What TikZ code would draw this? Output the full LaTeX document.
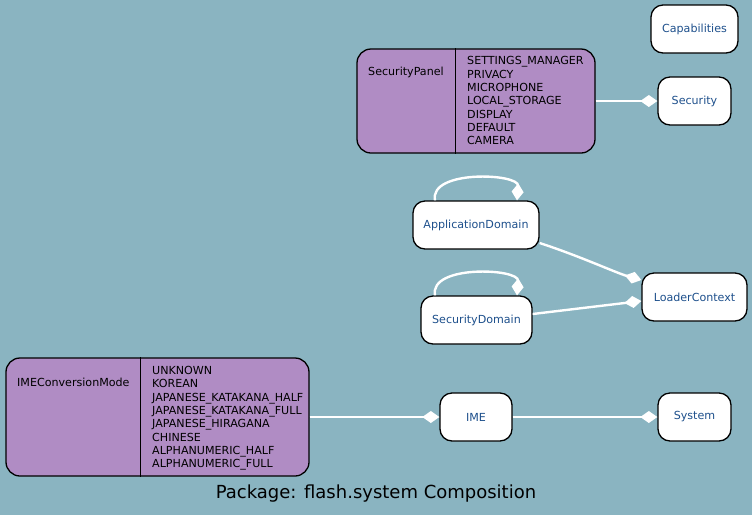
\documentclass[tikz,border=0pt]{standalone}
\usepackage{fontspec}
\setmainfont{DejaVu Sans}
\usetikzlibrary{arrows.meta}
\definecolor{bgc}{RGB}{138,180,193}
\definecolor{purp}{RGB}{176,140,196}
\definecolor{nblue}{RGB}{30,80,140}
\tikzset{
  cls/.style={draw=black, line width=1.3pt, fill=white, rounded corners=12pt,
    text=nblue, font=\fontsize{11.1}{12}\selectfont, inner sep=0pt},
  enumbox/.style={draw=black, line width=1.3pt, fill=purp, rounded corners=14pt, inner sep=0pt},
  enumtxt/.style={font=\fontsize{11.1}{13.33}\selectfont, align=left, inner sep=0pt, text=black},
  edge/.style={draw=white, line width=2.4pt, -{Diamond[length=17pt,width=12pt,fill=white,line width=0pt]}},
}
\begin{document}
\begin{tikzpicture}[x=1pt,y=-1pt]
\fill[bgc] (0,0) rectangle (752,515);
\useasboundingbox (0,0) rectangle (752,515);

% simple class nodes
\node[cls, minimum width=87pt, minimum height=48pt] (cap) at (694.5,29) {Capabilities};
\node[cls, minimum width=73pt, minimum height=48pt] (sec) at (694.5,101) {Security};
\node[cls, minimum width=126pt, minimum height=48pt] (ad) at (476,225) {ApplicationDomain};
\node[cls, minimum width=105pt, minimum height=48pt] (lc) at (694.5,297) {LoaderContext};
\node[cls, minimum width=111pt, minimum height=48pt] (sd) at (476.5,320) {SecurityDomain};
\node[cls, minimum width=72pt, minimum height=48pt] (ime) at (476,417) {IME};
\node[cls, minimum width=73pt, minimum height=48pt] (sys) at (694.5,417) {System};

% SecurityPanel enum
\node[enumbox, minimum width=238pt, minimum height=104pt] (sp) at (476,101) {};
\draw[line width=1.3pt] ([xshift=99pt]sp.north west) -- ([xshift=99pt]sp.south west);
\node[enumtxt, anchor=west] (splab) at (368,72.5) {SecurityPanel};
\node[enumtxt, anchor=north west] (spvals) at (467,56.5) {SETTINGS\_MANAGER\\PRIVACY\\MICROPHONE\\LOCAL\_STORAGE\\DISPLAY\\DEFAULT\\CAMERA};

% IMEConversionMode enum
\node[enumbox, minimum width=303pt, minimum height=118pt] (icm) at (157.5,417) {};
\draw[line width=1.3pt] ([xshift=135pt]icm.north west) -- ([xshift=135pt]icm.south west);
\node[enumtxt, anchor=west] (icmlab) at (17,382.5) {IMEConversionMode};
\node[enumtxt, anchor=north west] (icmvals) at (152,366) {UNKNOWN\\KOREAN\\JAPANESE\_KATAKANA\_HALF\\JAPANESE\_KATAKANA\_FULL\\JAPANESE\_HIRAGANA\\CHINESE\\ALPHANUMERIC\_HALF\\ALPHANUMERIC\_FULL};

% connectors
\draw[edge] (sp.east) -- (sec.west);
\draw[edge] (icm.east) -- (ime.west);
\draw[edge] (ime.east) -- (sys.west);
\draw[edge] ([yshift=-18pt]ad.east) .. controls +(40pt,-13pt) and +(-25pt,7pt) .. ([yshift=17pt]lc.west);
\draw[edge] ([yshift=6pt]sd.east) -- ([yshift=-4pt]lc.west);
\draw[edge] ([xshift=-41pt]ad.north) .. controls +(-6pt,31pt) and +(2pt,27pt) .. ([xshift=41pt]ad.north);
\draw[edge] ([xshift=-41.5pt]sd.north) .. controls +(-6pt,31pt) and +(2pt,27pt) .. ([xshift=40.5pt]sd.north);

% caption
\node[font=\fontsize{18}{21}\selectfont, text=black] (cap2) at (376,494) {Package: flash.system Composition};
\end{tikzpicture}
\end{document}
